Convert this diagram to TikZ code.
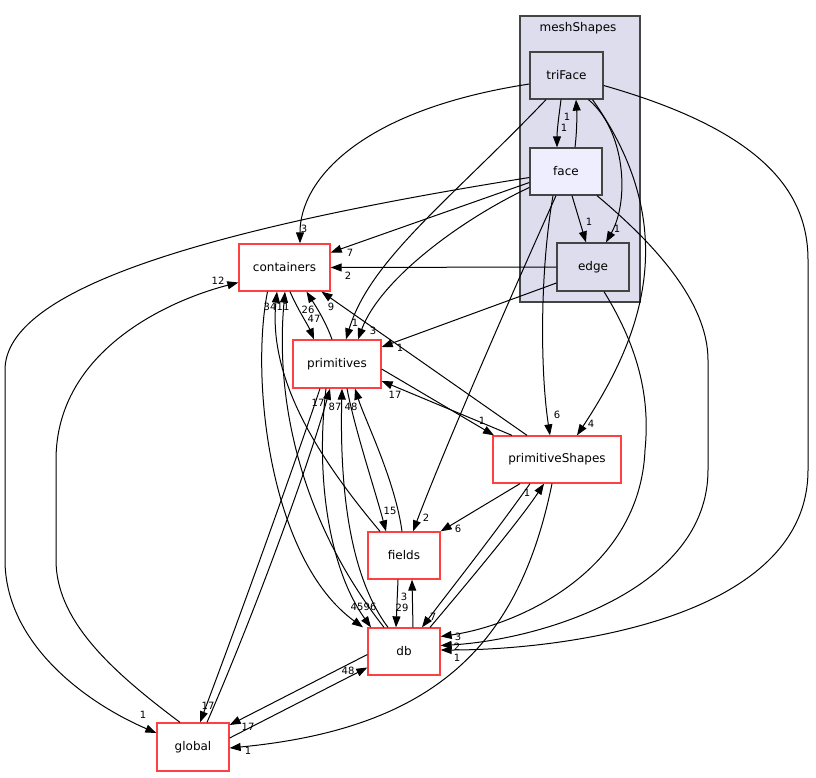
\documentclass[tikz,border=0pt]{standalone}
\usepackage{fontspec}
\setmainfont{DejaVu Sans}
\usetikzlibrary{arrows.meta}
\definecolor{dirred}{HTML}{FF4040}
\definecolor{clusterfill}{HTML}{DDDDEE}
\definecolor{curfill}{HTML}{EEEEFF}
\definecolor{clusterline}{HTML}{444444}

\begin{document}
\begin{tikzpicture}[x=1pt,y=-1pt,
dir/.style={draw=dirred, fill=white, line width=1.3pt, minimum width=72pt, minimum height=47pt, inner sep=0pt, font=\fontsize{12}{14}\selectfont},
sub/.style={dir, draw=clusterline, fill=clusterfill},
dep/.style={-{Triangle[length=11pt,width=8pt]}, line width=1pt},
lbl/.style={font=\fontsize{10}{12}\selectfont, inner sep=0pt}
]
\useasboundingbox (0,0) rectangle (816,777);
\draw[clusterline, fill=clusterfill, line width=1.3pt] (520,16) rectangle (640,302);
\node[font=\fontsize{12}{14}\selectfont] (meshShapes) at (578,28) {meshShapes};

\node[sub, minimum width=73pt] (triFace) at (566.5,75.5) {triFace};
\node[sub, fill=curfill] (face) at (566,171.5) {face};
\node[sub, minimum height=48pt] (edge) at (593,267) {edge};
\node[dir, minimum width=91pt] (containers) at (284.5,267.5) {containers};
\node[dir, minimum width=88pt, minimum height=48pt] (primitives) at (337,364) {primitives};
\node[dir, minimum width=128pt] (primitiveShapes) at (557,459.5) {primitiveShapes};
\node[dir] (fields) at (404,555.5) {fields};
\node[dir] (db) at (404,651.5) {db};
\node[dir, minimum height=48pt] (global) at (193,747) {global};

% meshShapes
\draw[dep] ([yshift=-8.5pt]triFace.west) .. controls (360,110) and (300,180) .. ([xshift=15.5pt]containers.north) node[lbl] at (304,229) {3};
\draw[dep] ([xshift=-5.5pt]triFace.south) .. controls (559,115) and (557,130) .. ([xshift=-9pt]face.north) node[lbl] at (564,128) {1};
\draw[dep] ([xshift=9pt]face.north) .. controls (577,130) and (577,115) .. ([xshift=9.5pt]triFace.south) node[lbl] at (567,117) {1};
\draw[dep] ([xshift=22pt]triFace.south) .. controls (625,130) and (630,200) .. ([xshift=13pt]edge.north) node[lbl] at (617,229) {1};
\draw[dep] ([xshift=26pt]triFace.south) .. controls (685,230) and (640,340) .. ([xshift=20pt]primitiveShapes.north) node[lbl] at (591,424) {4};
\draw[dep] ([xshift=-20.5pt]triFace.south) .. controls (450,200) and (370,260) .. ([xshift=9pt]primitives.north) node[lbl] at (355,323) {1};
\draw[dep] ([yshift=-10pt]triFace.east) .. controls (760,130) and (808,190) .. (808,260) -- (808,470) .. controls (808,620) and (560,650) .. ([yshift=1.5pt]db.east) node[lbl] at (457,658) {1};
\draw[dep] ([yshift=-11pt]face.west) -- ([yshift=15pt]containers.east) node[lbl] at (350,253) {7};
\draw[dep] ([yshift=-16pt]face.west) .. controls (460,220) and (380,280) .. ([xshift=21pt]primitives.north) node[lbl] at (373,331) {3};
\draw[dep] ([xshift=6pt]face.south) -- ([xshift=-7pt]edge.north) node[lbl] at (589,222) {1};
\draw[dep] ([xshift=-13pt]face.south) .. controls (540,270) and (540,370) .. ([xshift=-7pt]primitiveShapes.north) node[lbl] at (557,415) {6};
\draw[dep] ([xshift=-10pt]face.south) .. controls (500,320) and (440,460) .. ([xshift=9pt]fields.north) node[lbl] at (426,518) {2};
\draw[dep] ([yshift=-6pt]face.west) .. controls (200,230) and (5,290) .. (5,370) -- (5,560) .. controls (5,640) and (80,700) .. ([yshift=14pt]global.west) node[lbl] at (143,715) {1};
\draw[dep] ([xshift=31pt]face.south) .. controls (650,240) and (708,300) .. (708,360) -- (708,470) .. controls (708,590) and (540,640) .. ([yshift=6pt]db.east) node[lbl] at (457,647) {2};
\draw[dep] (edge.west) -- (containers.east) node[lbl] at (348,276) {2};
\draw[dep] ([yshift=-16pt]edge.west) -- ([yshift=17pt]primitives.east) node[lbl] at (400,348) {1};
\draw[dep] ([xshift=11pt]edge.south) .. controls (640,350) and (650,400) .. (645,450) .. controls (640,570) and (520,625) .. ([yshift=15pt]db.east) node[lbl] at (458,637) {3};

% containers / primitives
\draw[dep] ([xshift=5.5pt]containers.south) .. controls (298,310) and (308,325) .. ([xshift=-23pt]primitives.north) node[lbl] at (314,319) {47};
\draw[dep] ([xshift=-5pt]primitives.north) .. controls (325,320) and (315,305) .. ([xshift=22pt]containers.south) node[lbl] at (308,310) {26};
\draw[dep] ([xshift=-30pt]primitiveShapes.north) -- ([xshift=37pt]containers.south) node[lbl] at (331,307) {9};
\draw[dep] ([xshift=-45pt]primitiveShapes.north) -- ([yshift=-17pt]primitives.east) node[lbl] at (395,395) {17};
\draw[dep] ([yshift=-5pt]primitives.east) -- ([xshift=-63pt]primitiveShapes.north) node[lbl] at (482,421) {1};
\draw[dep] ([xshift=-24pt]fields.north) .. controls (320,460) and (268,380) .. ([xshift=-7.5pt]containers.south) node[lbl] at (270,307) {34};
\draw[dep] ([xshift=-20pt]db.north) .. controls (300,520) and (275,400) .. ([xshift=0.5pt]containers.south) node[lbl] at (283,307) {11};
\draw[dep] ([xshift=-17pt]containers.south) .. controls (250,380) and (270,560) .. ([xshift=-41pt]db.north) node[lbl] at (357,607) {45};
\draw[dep] ([xshift=-11pt]primitives.south) .. controls (315,480) and (330,570) .. ([xshift=-33pt]db.north) node[lbl] at (370,607) {96};
\draw[dep] ([xshift=-16pt]db.north) .. controls (345,570) and (340,470) .. ([xshift=5pt]primitives.south) node[lbl] at (335,407) {87};
\draw[dep] ([xshift=-2pt]fields.north) .. controls (395,480) and (365,420) .. ([xshift=18pt]primitives.south) node[lbl] at (351,407) {48};
\draw[dep] ([xshift=10pt]primitives.south) .. controls (355,430) and (375,490) .. ([xshift=-18pt]fields.north) node[lbl] at (390,511) {15};

% primitiveShapes, fields, db, global
\draw[dep] ([xshift=-37pt]primitiveShapes.south) -- (fields.north east) node[lbl] at (458,529) {6};
\draw[dep] ([xshift=-27pt]primitiveShapes.south) .. controls (490,540) and (450,590) .. ([xshift=18pt]db.north) node[lbl] at (433,617) {7};
\draw[dep] ([xshift=26pt]db.north) .. controls (470,580) and (520,520) .. ([xshift=-13pt]primitiveShapes.south) node[lbl] at (527,493) {1};
\draw[dep] ([xshift=-5pt]primitiveShapes.south) .. controls (520,640) and (440,728) .. ([yshift=-1pt]global.east) node[lbl] at (248,751) {1};
\draw[dep] ([xshift=-6pt]fields.south) -- ([xshift=-8pt]db.north) node[lbl] at (402,608) {29};
\draw[dep] ([xshift=9pt]db.north) -- ([xshift=8pt]fields.south) node[lbl] at (404,597) {3};
\draw[dep] ([xshift=14pt]global.north) .. controls (260,600) and (310,460) .. ([xshift=-7pt]primitives.south) node[lbl] at (318,403) {17};
\draw[dep] ([xshift=-17pt]primitives.south) .. controls (296,460) and (246,600) .. ([xshift=7pt]global.north) node[lbl] at (208,706) {17};
\draw[dep] ([yshift=-3pt]db.west) -- ([yshift=22pt]global.east) node[lbl] at (248,727) {17};
\draw[dep] ([yshift=9pt]global.east) -- ([yshift=-16pt]db.west) node[lbl] at (348,671) {48};
\draw[dep] ([xshift=-13pt]global.north) .. controls (110,670) and (56,620) .. (56,560) -- (56,460) .. controls (56,350) and (170,300) .. ([yshift=-15pt]containers.west) node[lbl] at (218,281) {12};
\end{tikzpicture}
\end{document}
